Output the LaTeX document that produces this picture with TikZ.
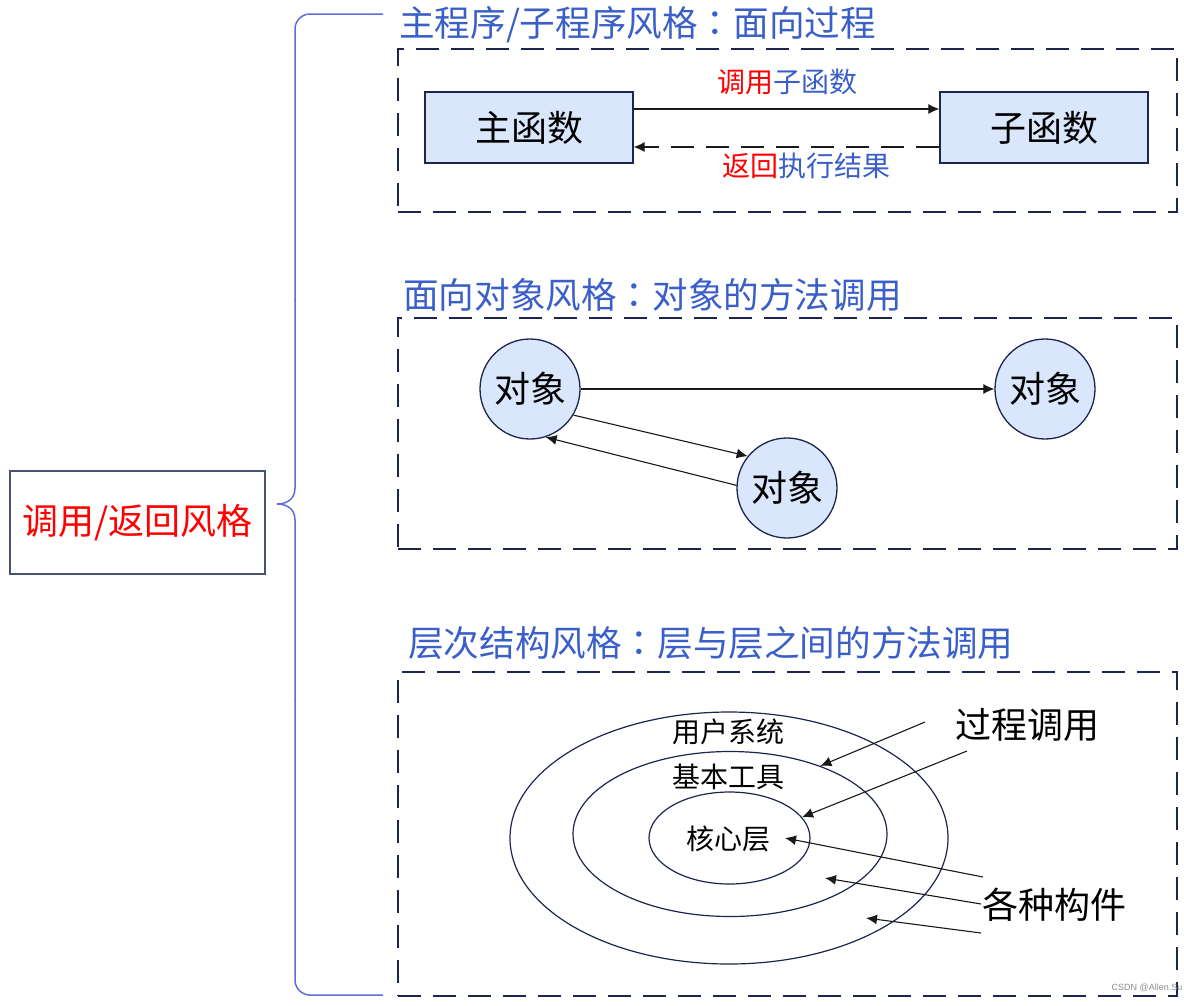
\documentclass[tikz,border=0pt]{standalone}
\usepackage{fontspec}
\setmainfont{Noto Sans CJK SC}
\newfontfamily\tcfont{Noto Sans CJK TC}
\newfontfamily\wmfont{Liberation Sans}
\usetikzlibrary{arrows.meta,shapes.geometric}
\definecolor{ttlblue}{HTML}{3A5FC8}
\definecolor{bracecol}{HTML}{5C6FD6}
\definecolor{navy}{HTML}{1B2550}
\definecolor{boxfill}{HTML}{DAE6FC}
\definecolor{myred}{HTML}{FF0000}
\newcommand{\fs}[1]{\fontsize{#1}{#1}\selectfont}
\newcommand{\ccolon}{{\tcfont ：}}
\tikzset{
  title/.style={anchor=west, inner sep=0pt, text=ttlblue, font=\fs{35.6}},
  dbox/.style={draw=navy, line width=1.4pt, dash pattern=on 23pt off 12pt, inner sep=0pt},
  fnbox/.style={draw=navy, fill=boxfill, line width=1.3pt, minimum width=208pt, minimum height=71pt, inner sep=0pt, font=\fs{36}},
  obj/.style={circle, draw=navy, fill=boxfill, line width=1.3pt, minimum size=100pt, inner sep=0pt, font=\fs{36}},
  ring/.style={ellipse, draw=navy, line width=1.2pt, inner sep=0pt},
  arr/.style={draw=black!90, line width=1.1pt, -{Latex[length=11pt,width=10pt]}},
  darr/.style={arr, dash pattern=on 23pt off 12pt},
  lbl/.style={inner sep=0pt, font=\fs{28}},
  biglbl/.style={inner sep=0pt, font=\fs{36}},
}
\begin{document}
\begin{tikzpicture}[x=1pt,y=-1pt]
\useasboundingbox (0,0) rectangle (1184,1005);
% root box
\node[draw=navy!80, line width=1.2pt, minimum width=255pt, minimum height=103pt, inner sep=0pt, text=myred, font=\fs{36}] (root) at (137.5,522.5) {调用/返回风格};
% brace
\draw[bracecol, line width=1.5pt, rounded corners=15pt]
  (383,14) -- (295,14) -- (295,300);
\draw[bracecol, line width=1.5pt]
  (295,299) -- (295,488) .. controls (295,499) and (287,504) .. (277,504)
  .. controls (287,504) and (295,509) .. (295,520) -- (295,701);
\draw[bracecol, line width=1.5pt, rounded corners=15pt]
  (295,700) -- (295,995) -- (383,995);

% section 1
\node[title] (t1) at (399,25) {主程序/子程序风格\ccolon 面向过程};
\node[dbox, minimum width=779pt, minimum height=163pt] (box1) at (787.5,130.5) {};
\node[fnbox] (main) at (529,127.5) {主函数};
\node[fnbox] (sub) at (1044,127.5) {子函数};
\draw[arr] ([yshift=18.5pt]main.east) -- ([yshift=18.5pt]sub.west);
\draw[darr] ([yshift=-19.5pt]sub.west) -- ([yshift=-19.5pt]main.east);
\node[lbl] (l1) at (787,82) {\textcolor{myred}{调用}\textcolor{ttlblue}{子函数}};
\node[lbl] (l2) at (806,166) {\textcolor{myred}{返回}\textcolor{ttlblue}{执行结果}};

% section 2
\node[title] (t2) at (403,295) {面向对象风格\ccolon 对象的方法调用};
\node[dbox, minimum width=779pt, minimum height=231pt] (box2) at (787.5,433.5) {};
\node[obj] (o1) at (530,389) {对象};
\node[obj] (o2) at (1045,389) {对象};
\node[obj] (o3) at (787,488) {对象};
\draw[arr] (o1.east) -- (o2.west);
\draw[arr] (o1.-31) -- (o3.141);
\draw[arr] (o3.177) -- (o1.-72);

% section 3
\node[title] (t3) at (408,643) {层次结构风格\ccolon 层与层之间的方法调用};
\node[dbox, minimum width=779pt, minimum height=324pt] (box3) at (787.5,834) {};
\node[ring, minimum width=438pt, minimum height=252pt] (outer) at (729,838) {};
\node[ring, minimum width=314pt, minimum height=165pt] (middle) at (730,834) {};
\node[ring, minimum width=161pt, minimum height=92pt] (inner) at (729.5,838) {};
\node[lbl] (u) at (728,732) {用户系统};
\node[lbl] (b) at (728,777) {基本工具};
\node[lbl] (c) at (728,839) {核心层};
\node[biglbl] (pc) at (1027,725) {过程调用};
\node[biglbl] (gc) at (1054,905) {各种构件};
\coordinate (a1s) at (925,722);
\coordinate (a2s) at (967,751);
\coordinate (b1s) at (983,877);
\coordinate (b2s) at (981,904);
\coordinate (b3s) at (981,933);
\coordinate (b1e) at (785,838);
\coordinate (b2e) at (825,878);
\coordinate (b3e) at (866,918);
\draw[arr] (a1s) -- (middle.37);
\draw[arr] (a2s) -- (inner.16);
\draw[arr] (b1s) -- (b1e);
\draw[arr] (b2s) -- (b2e);
\draw[arr] (b3s) -- (b3e);

% watermark
\node[inner sep=0pt, text=black!45, font=\wmfont\fontsize{9}{9}\selectfont] (wm) at (1147,988) {CSDN @Allen.Su};
\end{tikzpicture}
\end{document}
